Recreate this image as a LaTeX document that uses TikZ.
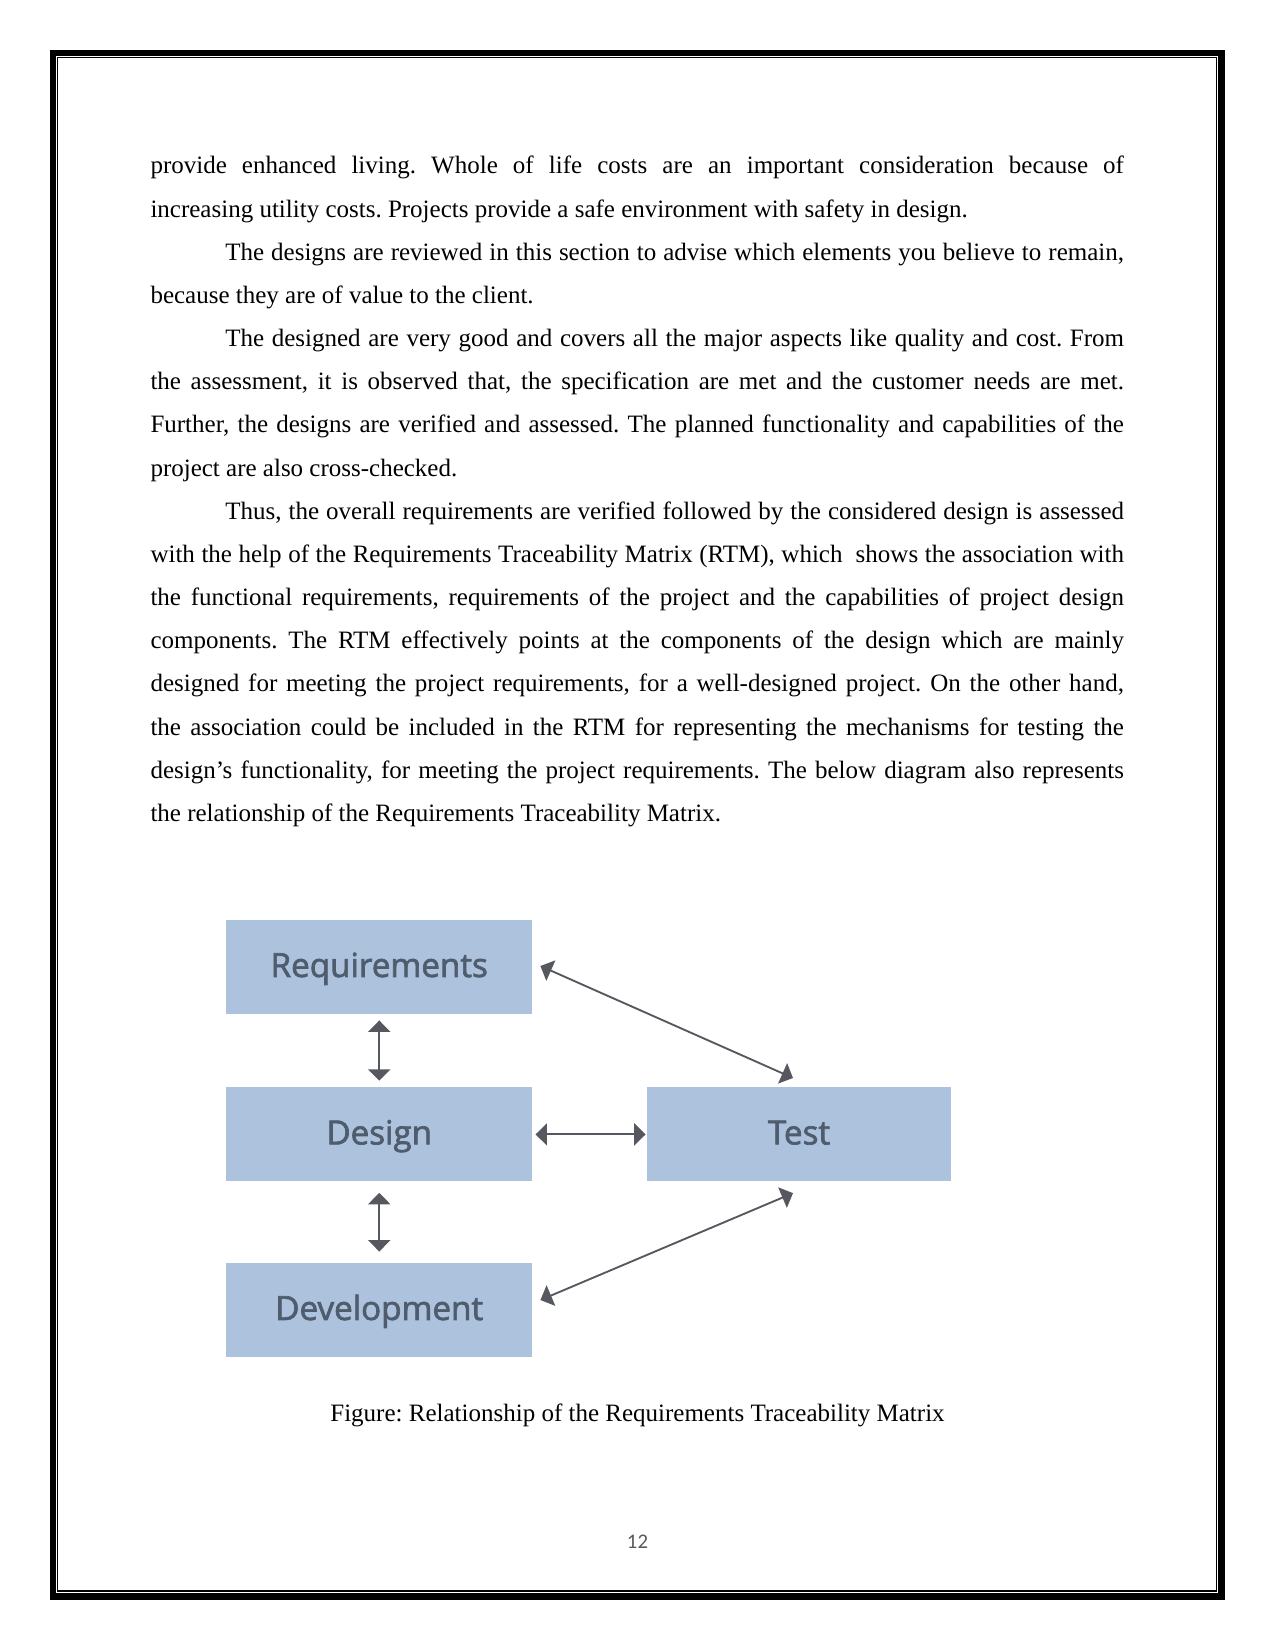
\documentclass[tikz,border=0pt]{standalone}
\usepackage{fontspec}
\setmainfont{Liberation Serif}
\newfontfamily\boxfont{Open Sans}[FakeBold=2]
\newfontfamily\pgnumfont{Carlito}
\usetikzlibrary{arrows.meta,calc}
\definecolor{boxblue}{HTML}{ADC2DC}
\definecolor{boxtext}{HTML}{4F5C6D}
\definecolor{arrowgrey}{HTML}{55595F}
\definecolor{pagenum}{HTML}{595959}
\newcommand{\fullline}[1]{\makebox[469pt][s]{#1}}
\newcommand{\indline}[1]{\makebox[433pt][s]{#1}}
\tikzset{
  bodyline/.style={inner sep=0pt, outer sep=0pt, anchor=base west,
    font=\frenchspacing\fontsize{12.045pt}{14pt}\selectfont},
  rtmbox/.style={fill=boxblue, draw=none, inner sep=0pt,
    minimum width=147.2pt, minimum height=45.3pt,
    text=boxtext, font=\boxfont\fontsize{16pt}{18pt}\selectfont,
    text height=12pt, text depth=2.4pt},
  link/.style={draw=arrowgrey, line width=0.9pt,
    {Triangle[width=10.6pt,length=5.5pt]}-{Triangle[width=10.6pt,length=5.5pt]}}
}
\begin{document}
\begin{tikzpicture}[x=0.4818pt,y=-0.4818pt]
\useasboundingbox (0,0) rectangle (1275,1651);
\fill[white] (0,0) rectangle (1275,1651);
% page border
\draw[line width=3.13pt] (53,53) rectangle (1221.5,1596.5);
\draw[line width=0.6pt] (57.3,57.3) rectangle (1216.3,1591);
% body text
\node[bodyline] (l1) at (150.5,174.0) {\fullline{provide enhanced living. Whole of life costs are an important consideration because of}};
\node[bodyline] (l2) at (150.5,217.2) {increasing utility costs. Projects provide a safe environment with safety in design.};
\node[bodyline] (l3) at (225.3,260.3) {\indline{The designs are reviewed in this section to advise which elements you believe to remain,}};
\node[bodyline] (l4) at (150.5,303.5) {because they are of value to the client.};
\node[bodyline] (l5) at (225.3,346.6) {\indline{The designed are very good and covers all the major aspects like quality and cost. From}};
\node[bodyline] (l6) at (150.5,389.8) {\fullline{the assessment, it is observed that, the specification are met and the customer needs are met.}};
\node[bodyline] (l7) at (150.5,433.0) {\fullline{Further, the designs are verified and assessed. The planned functionality and capabilities of the}};
\node[bodyline] (l8) at (150.5,476.1) {project are also cross-checked.};
\node[bodyline] (l9) at (225.3,519.3) {\indline{Thus, the overall requirements are verified followed by the considered design is assessed}};
\node[bodyline] (l10) at (150.5,562.4) {\fullline{with the help of the Requirements Traceability Matrix (RTM), which~ shows the association with}};
\node[bodyline] (l11) at (150.5,605.6) {\fullline{the functional requirements, requirements of the project and the capabilities of project design}};
\node[bodyline] (l12) at (150.5,648.8) {\fullline{components. The RTM effectively points at the components of the design which are mainly}};
\node[bodyline] (l13) at (150.5,691.9) {\fullline{designed for meeting the project requirements, for a well-designed project. On the other hand,}};
\node[bodyline] (l14) at (150.5,735.1) {\fullline{the association could be included in the RTM for representing the mechanisms for testing the}};
\node[bodyline] (l15) at (150.5,778.2) {\fullline{design’s functionality, for meeting the project requirements. The below diagram also represents}};
\node[bodyline] (l16) at (150.5,821.4) {the relationship of the Requirements Traceability Matrix.};
% diagram
\node[rtmbox] (req) at (379.25,967) {Requirements};
\node[rtmbox] (des) at (379.25,1134.4) {Design};
\node[rtmbox] (dev) at (379.25,1310) {Development};
\node[rtmbox, minimum width=146pt] (test) at (799,1134.4) {Test};
\draw[link, shorten <=2.9pt, shorten >=3.0pt] (req.south) -- (des.north);
\draw[link, shorten <=5.3pt, shorten >=5.3pt] (des.south) -- (dev.north);
\draw[link, shorten <=1.5pt, shorten >=0.7pt] (des.east) -- (test.west);
\draw[link] ([shift={(8,-1)}]req.east) -- ([shift={(-6,-9)}]test.north);
\draw[link] ([shift={(8,-10)}]dev.east) -- ([shift={(-6,11.3)}]test.south);
% caption and page number
\node[bodyline, anchor=base] (cap) at (637.5,1421) {Figure: Relationship of the Requirements Traceability Matrix};
\node[anchor=base, inner sep=0pt, text=pagenum, font=\pgnumfont\fontsize{10pt}{11pt}\selectfont] (pg) at (637.5,1548) {12};
\end{tikzpicture}
\end{document}
